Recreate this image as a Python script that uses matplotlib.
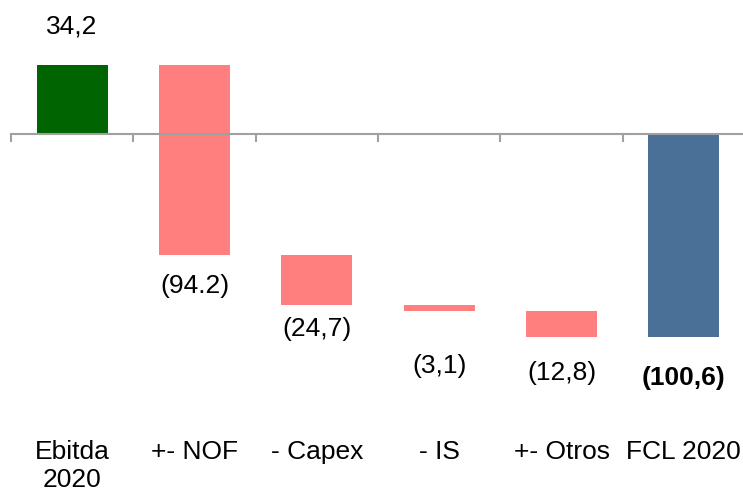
import numpy as np
import matplotlib.pyplot as plt
import matplotlib.transforms as mtransforms

plt.rcParams['font.family'] = ['Liberation Sans', 'DejaVu Sans']

categories = ['Ebitda\n2020', '+- NOF', '- Capex', '- IS', '+- Otros', 'FCL 2020']
values = [34.2, -94.2, -24.7, -3.1, -12.8, -100.6]
value_labels = ['34,2', '(94.2)', '(24,7)', '(3,1)', '(12,8)', '(100,6)']

colors = ['#006400', '#ff7f7f', '#ff7f7f', '#ff7f7f', '#ff7f7f', '#4a7098']
# label offsets from the bar end, in points
label_offsets = [27.5, 22, 17, 39, 26, 29]

# waterfall: first and last bars start at zero, the rest float
bottoms = []
heights = []
running = 0.0
for i, v in enumerate(values):
    if i == 0 or i == len(values) - 1:
        bottoms.append(0.0)
        heights.append(v)
        running = v if i == 0 else running
    else:
        bottoms.append(running)
        heights.append(v)
        running += v

fig = plt.figure(figsize=(7.43, 4.92), dpi=100)
ax = fig.add_axes([11 / 743, 0, 734 / 743, 1])

ind = np.arange(len(categories))
ax.bar(ind, heights, 0.58, bottom=bottoms, color=colors)

ax.set_xlim(-0.5, 5.5)
ax.set_ylim(-177.2, 66.3)

for s in ['top', 'right', 'left']:
    ax.spines[s].set_visible(False)
ax.spines['bottom'].set_position(('data', 0))
ax.spines['bottom'].set_color('#a0a0a0')
ax.spines['bottom'].set_linewidth(1.5)
ax.set_yticks([])
ax.set_xticks(np.arange(-0.5, 6.0, 1.0))
ax.set_xticklabels([])
ax.tick_params(axis='x', direction='out', length=6, width=1.5, color='#a0a0a0')

fs = 19
for i, (b, h) in enumerate(zip(bottoms, heights)):
    top = b + h
    if h > 0:
        ax.annotate(value_labels[i], (i, top), xytext=(0, label_offsets[i]),
                    textcoords='offset points', ha='center', va='center', fontsize=fs)
    else:
        ax.annotate(value_labels[i], (i, top), xytext=(0, -label_offsets[i]),
                    textcoords='offset points', ha='center', va='center', fontsize=fs,
                    fontweight='bold' if i == len(values) - 1 else 'normal')

trans = mtransforms.blended_transform_factory(ax.transData, fig.transFigure)
for i, c in enumerate(categories):
    ax.text(i, 1 - 440 / 492, c, transform=trans, ha='center', va='top',
            fontsize=fs, linespacing=1.2)

plt.savefig('out.png')
